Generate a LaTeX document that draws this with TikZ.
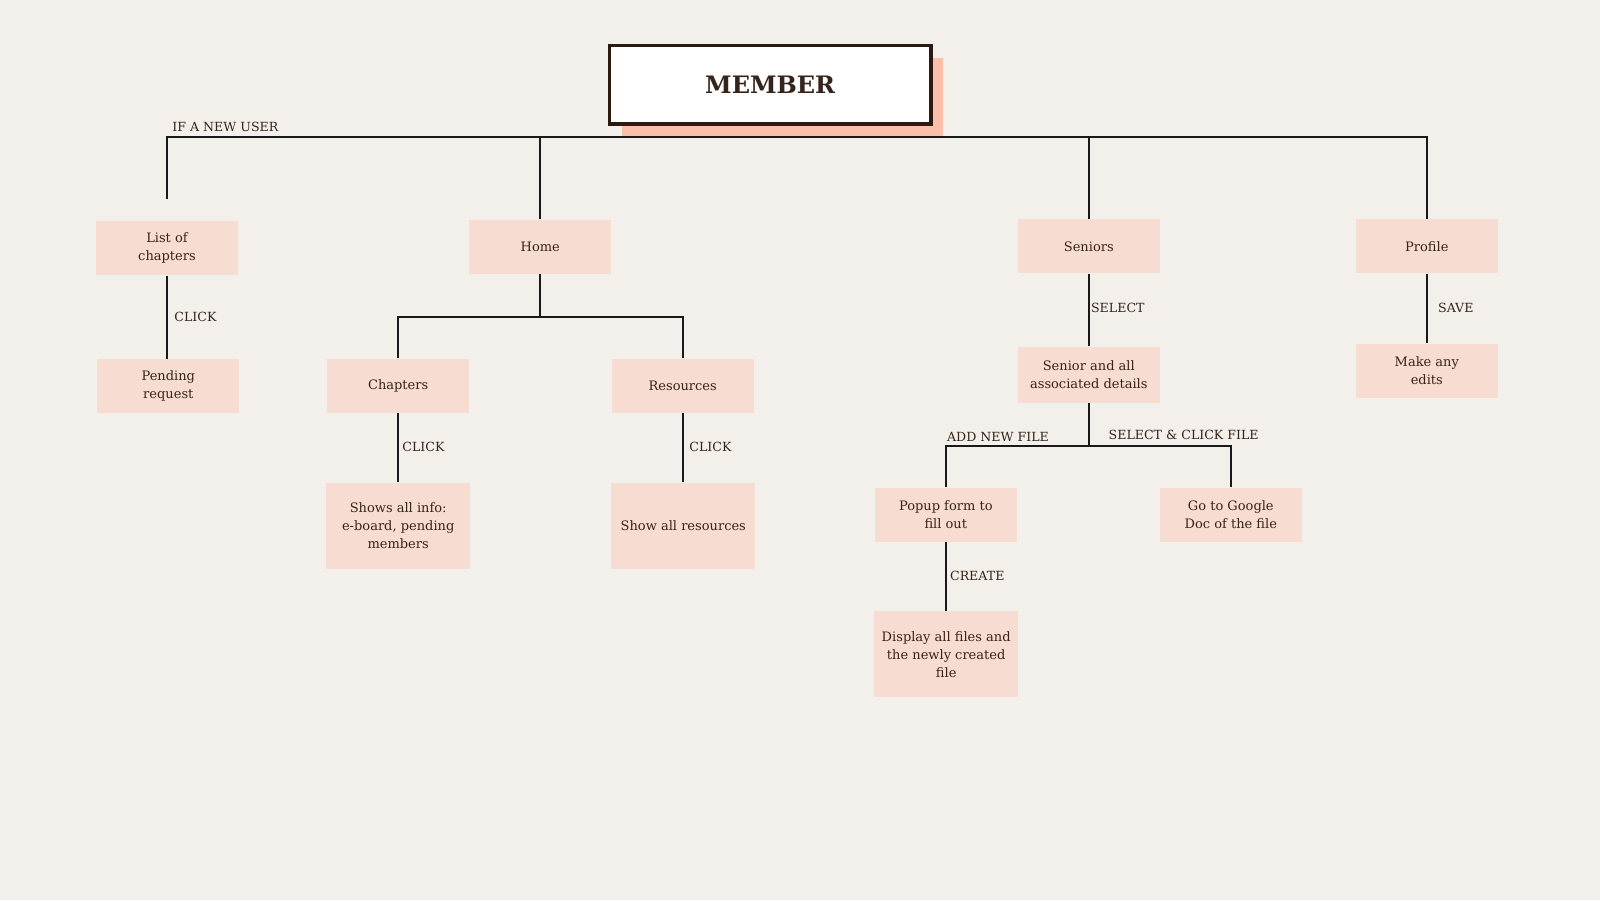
\documentclass[tikz,border=0pt]{standalone}
\usepackage{fontspec}
\setmainfont{DejaVu Serif}
\usepackage{xcolor}
\usetikzlibrary{positioning}
\definecolor{paper}{HTML}{F3F0EB}
\definecolor{blush}{HTML}{F7DCD2}
\definecolor{salmon}{HTML}{FCBEA8}
\definecolor{ink}{HTML}{35241B}
\definecolor{frame}{HTML}{2B1A10}

\begin{document}
\begin{tikzpicture}[x=0.5pt,y=-0.5pt,
            card/.style={fill=blush,text=ink,align=center,inner sep=0pt,
                 minimum width=71pt,minimum height=27pt,
                 font=\fontsize{6.5}{9}\selectfont},
            tallcard/.style={card,minimum width=72pt,minimum height=43pt},
            link/.style={draw=black!90,line width=1pt},
            tag/.style={text=ink,inner sep=0pt,anchor=base west,
                 font=\fontsize{6.3}{8}\selectfont}]
            \fill[paper] (0,0) rectangle (1600,900);
            \useasboundingbox (0,0) rectangle (1600,900);

            \fill[salmon] (622,58) rectangle (943,136.7);
            \node[draw=frame,line width=1.65pt,fill=white,text=ink,
                 minimum width=160.9pt,minimum height=39.2pt,
                 font=\bfseries\fontsize{12}{15}\selectfont] (member) at (770.2,84.9) {MEMBER};

            \node[card] (list) at (167,248.3) {List of\\chapters};
            \node[card] (pending) at (168.3,386) {Pending\\request};
            \node[card] (home) at (540.3,246.5) {Home};
            \node[card] (chapters) at (398.2,385.5) {Chapters};
            \node[tallcard] (info) at (398.2,525.7) {Shows all info:\\e-board, pending\\members};
            \node[card] (resources) at (682.7,385.5) {Resources};
            \node[tallcard] (showres) at (683.3,525.7) {Show all resources};
            \node[card] (seniors) at (1088.8,246.4) {Seniors};
            \node[card,minimum height=28pt] (details) at (1088.8,374.8) {Senior and all\\associated details};
            \node[card] (profile) at (1426.8,246.4) {Profile};
            \node[card] (edits) at (1426.8,370.8) {Make any\\edits};
            \node[card] (popup) at (945.8,514.7) {Popup form to\\fill out};
            \node[card] (gdoc) at (1230.8,514.7) {Go to Google\\Doc of the file};
            \node[tallcard] (display) at (946.2,654.3) {Display all files and\\the newly created\\file};

            \coordinate (busL) at (167.3,136.7);
            \coordinate (busR) at (1426.7,136.7);
            \coordinate (listtip) at (167.3,199);
            \coordinate (homebus) at (540.3,317.3);
            \coordinate (filebus) at (1088.8,446.3);

            \path[link] (listtip) -- (busL) -- (busR) -- (profile.north -| busR);
            \path[link] (home.north) -- (home.north |- busL);
            \path[link] (seniors.north) -- (seniors.north |- busL);
            \path[link] (list.south -| busL) -- (pending.north -| busL);
            \path[link] (home.south) -- (homebus);
            \path[link] (chapters.north) |- (homebus) -| (resources.north);
            \path[link] (chapters.south) -- (info.north -| chapters.south);
            \path[link] (resources.south) -- (showres.north -| resources.south);
            \path[link] (seniors.south) -- (details.north);
            \path[link] (profile.south) -- (edits.north);
            \path[link] (details.south) -- (filebus);
            \path[link] (popup.north) |- (filebus) -| (gdoc.north);
            \path[link] (popup.south) -- (display.north -| popup.south);

            \node[tag] (newuser) at (172,131.5) {IF A NEW USER};
            \node[tag] (click1) at (174,321.5) {CLICK};
            \node[tag] (click2) at (402,451) {CLICK};
            \node[tag] (click3) at (689,451) {CLICK};
            \node[tag] (select) at (1090.7,312.5) {SELECT};
            \node[tag] (save) at (1437.7,312.5) {SAVE};
            \node[tag] (addfile) at (946.7,441.7) {ADD NEW FILE};
            \node[tag] (clickfile) at (1108.3,439) {SELECT \& CLICK FILE};
            \node[tag] (create) at (949.7,580) {CREATE};
\end{tikzpicture}
\end{document}
